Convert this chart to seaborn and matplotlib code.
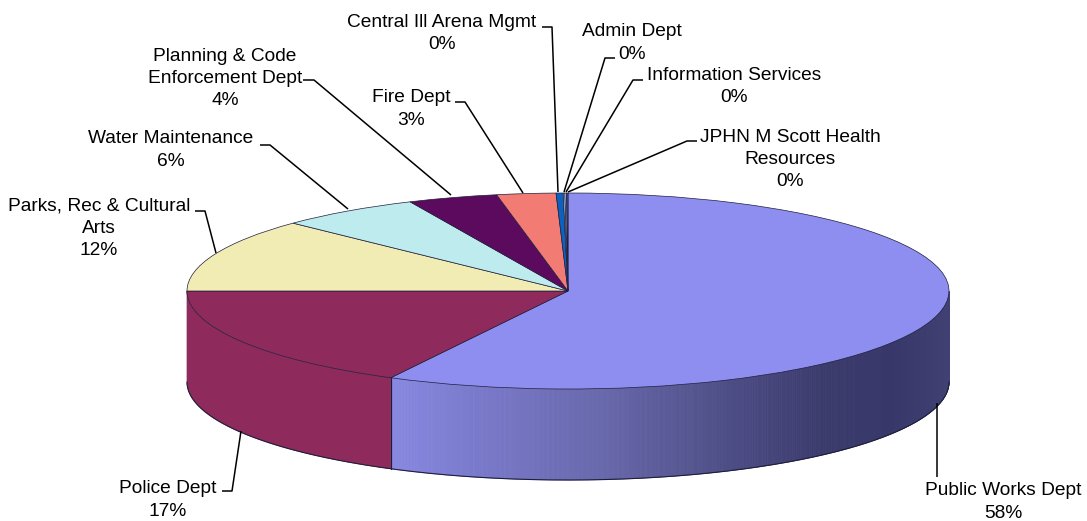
import numpy as np
import matplotlib
matplotlib.use("Agg")
import matplotlib.pyplot as plt
from matplotlib.colors import LinearSegmentedColormap
import seaborn as sns

# ---- data ----
departments = ["Public Works Dept", "Police Dept", "Parks, Rec & Cultural\nArts", "Water Maintenance",
               "Planning & Code\nEnforcement Dept", "Fire Dept", "Central Ill Arena Mgmt", "Admin Dept",
               "Information Services", "JPHN M Scott Health\nResources"]
shares = [57.7, 17.3, 12.17, 6.03, 3.8, 2.5, 0.3, 0.07, 0.07, 0.06]
percent_labels = ["58%", "17%", "12%", "6%", "4%", "3%", "0%", "0%", "0%", "0%"]

# ---- styles ----
colors = ["#8E8EF0", "#8E2A5C", "#F1ECB4", "#BEEBEE", "#5C0A5E", "#F27C74",
          "#0C62BE", "#B9C6EA", "#D9DDF2", "#2F55A8"]
public_wall = LinearSegmentedColormap.from_list(
    "wall", [(0.0, "#8888E2"), (0.15, "#7A7ACC"), (0.38, "#6868AC"), (0.55, "#54548F"),
             (0.78, "#3A3A6C"), (0.9, "#37376A"), (1.0, "#404072")])
W, H = 1087, 521
cx, cy, rx, ry, depth = 568, 291, 381, 98, 91
edge = "#1E1E3C"
font = "Liberation Sans"
fs = 13.75

# label centre, anchor polyline (pixel layout)
label_pos = [(1003, 502), (168, 500), (99, 228.5), (171, 150), (225, 78.5), (411, 109), (442, 33.5),
             (632, 43), (734, 86.5), (790, 159.5)]
leaders = [
    [(937, 477), (937, 403)],
    [(222, 491), (232, 491), (241, 431)],
    [(195, 211), (205, 211), (216, 253)],
    [(260, 145), (270, 145), (348, 209)],
    [(303, 80), (314, 80), (451, 195)],
    [(455, 102), (465, 102), (523, 193)],
    [(542, 27), (552, 27), (558, 192)],
    [(615, 58), (605, 58), (564, 192)],
    [(643, 80), (633, 80), (566, 192)],
    [(697, 141), (687, 141), (568, 192)],
]

sns.set_theme(style="white")
palette = sns.color_palette(colors)

fig = plt.figure(figsize=(W / 100, H / 100), dpi=100, facecolor="white")
ax = fig.add_axes([0, 0, 1, 1])

start = 90.0
fracs = np.array(shares) / np.sum(shares)
edges = start - 360 * np.concatenate([[0], np.cumsum(fracs)])

# side wall (front half only), computed from the same values
d = depth / ry
for i, (a0, a1) in enumerate(zip(edges[:-1], edges[1:])):
    l, h = max(a1, -180), min(a0, 0)
    if h - l < 0.01:
        continue
    th = np.radians(np.linspace(l, h, int(h - l) * 4 + 2))
    if i == 0:
        for t0, t1 in zip(th[:-1], th[1:]):
            tm = 0.5 * (t0 + t1)
            c = public_wall((np.cos(tm) + 0.47) / 1.47)
            xs = [np.cos(t0), np.cos(t1), np.cos(t1), np.cos(t0)]
            ys = [np.sin(t0), np.sin(t1), np.sin(t1) - d, np.sin(t0) - d]
            ax.fill(xs, ys, color=c, lw=0.6, zorder=1)
    else:
        xs = np.concatenate([np.cos(th), np.cos(th[::-1])])
        ys = np.concatenate([np.sin(th), np.sin(th[::-1]) - d])
        ax.fill(xs, ys, color=colors[i], lw=0.5, zorder=1)

# outline of wall
th = np.radians(np.linspace(-180, 0, 400))
ax.plot(np.cos(th), np.sin(th) - d, color=edge, lw=0.8, zorder=2)
seam = np.radians(edges[1])
ax.plot([np.cos(seam)] * 2, [np.sin(seam), np.sin(seam) - d], color=edge, lw=0.9, zorder=2)

# top face
wedges, _ = ax.pie(shares, startangle=start, counterclock=False, colors=palette, radius=1.0,
                   center=(0, 0), frame=False,
                   wedgeprops=dict(edgecolor=edge, linewidth=0.5, zorder=3))
ax.set_aspect("auto")
ax.set_xlim((0 - cx) / rx, (W - cx) / rx)
ax.set_ylim((cy - H) / ry, cy / ry)
ax.axis("off")

# overlay for labels & leaders
ov = fig.add_axes([0, 0, 1, 1], facecolor="none")
ov.set_xlim(0, W)
ov.set_ylim(H, 0)
ov.axis("off")
for name, pct, pos, path in zip(departments, percent_labels, label_pos, leaders):
    ov.text(pos[0], pos[1], f"{name}\n{pct}", ha="center", va="center", fontsize=fs,
            family=font, color="black", linespacing=1.42)
    xs, ys = zip(*path)
    ov.plot(xs, ys, color="black", lw=1.1, solid_capstyle="butt")

fig.savefig("out.png", dpi=100, facecolor="white")
